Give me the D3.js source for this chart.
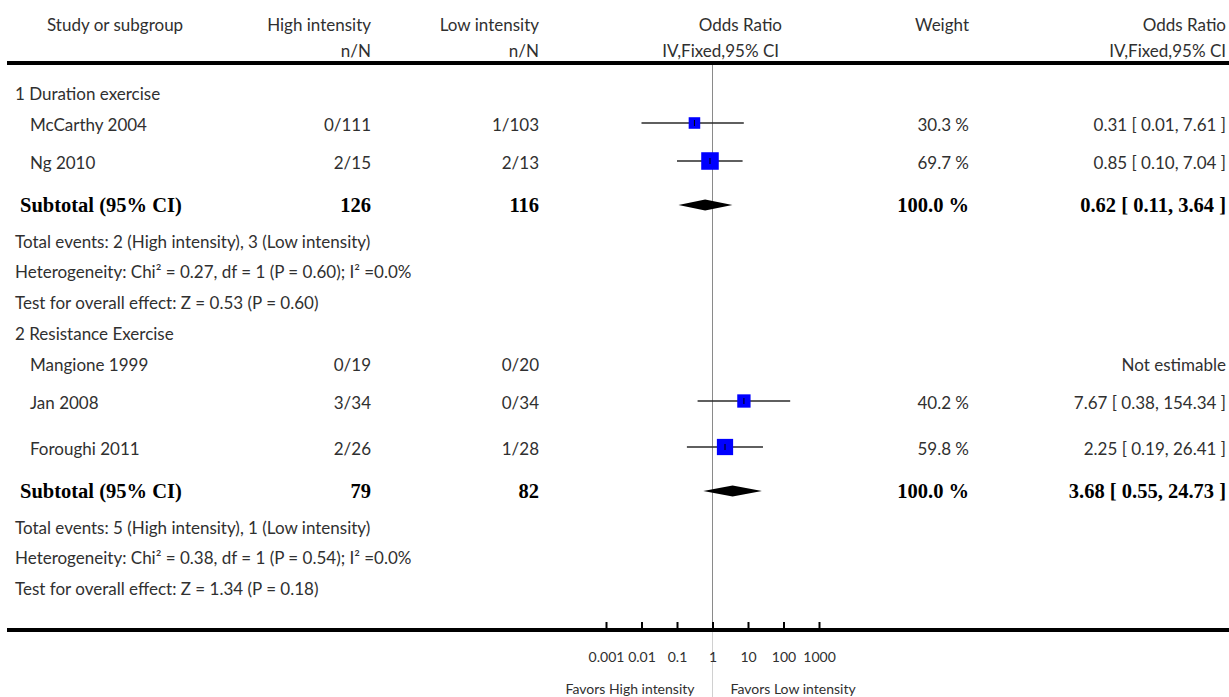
<!DOCTYPE html>
<html>
<head>
<meta charset="utf-8">
<script src="https://cdn.jsdelivr.net/npm/d3@7"></script>
<style>
  html, body { margin: 0; padding: 0; background: #fff; }
  svg { display: block; }
  .t { font-family: Lato, "Open Sans", sans-serif; font-size: 17px; fill: #303030; }
  .b { font-family: "Liberation Serif", "DejaVu Serif", serif; font-size: 20.5px; font-weight: bold; fill: #000; }
  .s { font-family: Lato, "Open Sans", sans-serif; font-size: 14px; fill: #303030; }
  .f { font-family: Lato, "Open Sans", sans-serif; font-size: 14px; fill: #303030; }
</style>
</head>
<body>
<svg id="chart" width="1229" height="697"></svg>
<script>
// ---- data ----
const groupNames = ["1 Duration exercise", "2 Resistance Exercise"];
const studyNames = ["McCarthy 2004", "Ng 2010", "Mangione 1999", "Jan 2008", "Foroughi 2011"];
const studyGroup = [0, 0, 1, 1, 1];
const highEvents = ["0/111", "2/15", "0/19", "3/34", "2/26"];
const lowEvents = ["1/103", "2/13", "0/20", "0/34", "1/28"];
const studyOR = [0.31, 0.85, null, 7.67, 2.25];
const studyLo = [0.01, 0.10, null, 0.38, 0.19];
const studyHi = [7.61, 7.04, null, 154.34, 26.41];
const studyWeight = [30.3, 69.7, null, 40.2, 59.8];

const subHighTotal = [126, 79];
const subLowTotal = [116, 82];
const subOR = [0.62, 3.68];
const subLo = [0.11, 0.55];
const subHi = [3.64, 24.73];
const subWeight = [100.0, 100.0];
const subEventsText = [
  "Total events: 2 (High intensity), 3 (Low intensity)",
  "Total events: 5 (High intensity), 1 (Low intensity)"
];
const subHetText = [
  "Heterogeneity: Chi\u00B2 = 0.27, df = 1 (P = 0.60); I\u00B2 =0.0%",
  "Heterogeneity: Chi\u00B2 = 0.38, df = 1 (P = 0.54); I\u00B2 =0.0%"
];
const subEffectText = [
  "Test for overall effect: Z = 0.53 (P = 0.60)",
  "Test for overall effect: Z = 1.34 (P = 0.18)"
];

const tickValues = [0.001, 0.01, 0.1, 1, 10, 100, 1000];
const tickLabels = ["0.001", "0.01", "0.1", "1", "10", "100", "1000"];

// ---- layout ----
const W = 1229, H = 697;
const svg = d3.select("#chart");
const col = { head: 15, study: 30, sub: 20, high: 371, low: 539, orHead: 782, weight: 969, orText: 1226 };

const x = d3.scaleLog().domain([0.001, 1000]).range([606, 819]);
const boxSize = d3.scaleSqrt().domain([0, 100]).range([0, 21]);

const fmt2 = d3.format(".2f");
const fmtW = d3.format(".1f");
const ciText = (o, l, h) => `${fmt2(o)} [ ${fmt2(l)}, ${fmt2(h)} ]`;

// row sequence; gaps between consecutive rows
const rows = [];
let y = 93;
groupNames.forEach((g, gi) => {
  if (gi > 0) y += 31;
  rows.push({ kind: "heading", gi, y });
  const idx = studyNames.map((_, i) => i).filter(i => studyGroup[i] === gi);
  idx.forEach((si, k) => {
    y += (k === 0 ? 31 : (gi === 1 && k === 2 ? 46 : 38));
    rows.push({ kind: "study", si, y });
  });
  y += 43;
  rows.push({ kind: "sub", gi, y });
  y += 36;
  rows.push({ kind: "events", gi, y });
  y += 30;
  rows.push({ kind: "het", gi, y });
  y += 31;
  rows.push({ kind: "effect", gi, y });
});

function text(cls, tx, ty, str, anchor) {
  return svg.append("text").attr("class", cls)
    .attr("x", tx).attr("y", ty)
    .attr("dominant-baseline", "central")
    .attr("text-anchor", anchor || "start")
    .text(str);
}

// ---- header ----
text("t", 47, 24, "Study or subgroup");
text("t", col.high, 24, "High intensity", "end");
text("t", col.low, 24, "Low intensity", "end");
text("t", col.orHead, 24, "Odds Ratio", "end");
text("t", col.weight, 24, "Weight", "end");
text("t", col.orText, 24, "Odds Ratio", "end");
text("t", col.high, 50, "n/N", "end");
text("t", col.low, 50, "n/N", "end");
text("t", 779, 50, "IV,Fixed,95% CI", "end");
text("t", col.orText, 50, "IV,Fixed,95% CI", "end");

svg.append("line").attr("x1", 7).attr("x2", W).attr("y1", 63).attr("y2", 63)
  .attr("stroke", "#000").attr("stroke-width", 4);

// line of no effect
const x1 = x(1);
svg.append("line").attr("x1", x1).attr("x2", x1).attr("y1", 65).attr("y2", 628)
  .attr("stroke", "#8a8a8a").attr("stroke-width", 1);
svg.append("line").attr("x1", x1).attr("x2", x1).attr("y1", 632).attr("y2", H)
  .attr("stroke", "#d0d0d0").attr("stroke-width", 1);

// ---- rows ----
rows.forEach(r => {
  if (r.kind === "heading") {
    text("t", col.head, r.y, groupNames[r.gi]);
  } else if (r.kind === "study") {
    const i = r.si;
    text("t", col.study, r.y, studyNames[i]);
    text("t", col.high, r.y, highEvents[i], "end");
    text("t", col.low, r.y, lowEvents[i], "end");
    if (studyOR[i] == null) {
      text("t", col.orText, r.y, "Not estimable", "end");
      return;
    }
    text("t", col.weight, r.y, fmtW(studyWeight[i]) + " %", "end");
    text("t", col.orText, r.y, ciText(studyOR[i], studyLo[i], studyHi[i]), "end");
    const my = r.y - 1;
    svg.append("line")
      .attr("x1", x(studyLo[i])).attr("x2", x(studyHi[i]))
      .attr("y1", my).attr("y2", my)
      .attr("stroke", "#2a2a2a").attr("stroke-width", 1.6);
    const s = boxSize(studyWeight[i]);
    svg.append("rect")
      .attr("x", x(studyOR[i]) - s / 2).attr("y", my - s / 2)
      .attr("width", s).attr("height", s)
      .attr("fill", "#0000ff");
    svg.append("line")
      .attr("x1", x(studyOR[i])).attr("x2", x(studyOR[i]))
      .attr("y1", my - 3).attr("y2", my + 3)
      .attr("stroke", "#000").attr("stroke-width", 1);
  } else if (r.kind === "sub") {
    const g = r.gi;
    text("b", col.sub, r.y, "Subtotal (95% CI)");
    text("b", col.high, r.y, subHighTotal[g], "end");
    text("b", col.low, r.y, subLowTotal[g], "end");
    text("b", col.weight, r.y, fmtW(subWeight[g]) + " %", "end");
    text("b", col.orText, r.y, ciText(subOR[g], subLo[g], subHi[g]), "end");
    const h = 11;
    const pts = [[x(subLo[g]), r.y], [x(subOR[g]), r.y - h / 2], [x(subHi[g]), r.y], [x(subOR[g]), r.y + h / 2]];
    svg.append("path").attr("d", d3.line()(pts) + "Z").attr("fill", "#000");
  } else if (r.kind === "events") {
    text("t", col.head, r.y, subEventsText[r.gi]);
  } else if (r.kind === "het") {
    text("t", col.head, r.y, subHetText[r.gi]);
  } else if (r.kind === "effect") {
    text("t", col.head, r.y, subEffectText[r.gi]);
  }
});

// ---- axis ----
const axisY = 630;
svg.append("line").attr("x1", 7).attr("x2", W).attr("y1", axisY).attr("y2", axisY)
  .attr("stroke", "#000").attr("stroke-width", 4);

const axis = d3.axisBottom(x)
  .tickValues(tickValues)
  .tickFormat((d, i) => tickLabels[i])
  .tickSizeInner(-7)
  .tickSizeOuter(0)
  .tickPadding(23);
const ag = svg.append("g").attr("transform", `translate(0,${axisY - 1})`).call(axis);
ag.select(".domain").remove();
ag.selectAll(".tick line").attr("stroke", "#000").attr("stroke-width", 2);
ag.selectAll(".tick text").attr("class", "s").attr("font-family", null).attr("font-size", null).attr("fill", null);

text("f", x1 - 18, 688, "Favors High intensity", "end");
text("f", x1 + 18, 688, "Favors Low intensity", "start");
</script>
</body>
</html>
